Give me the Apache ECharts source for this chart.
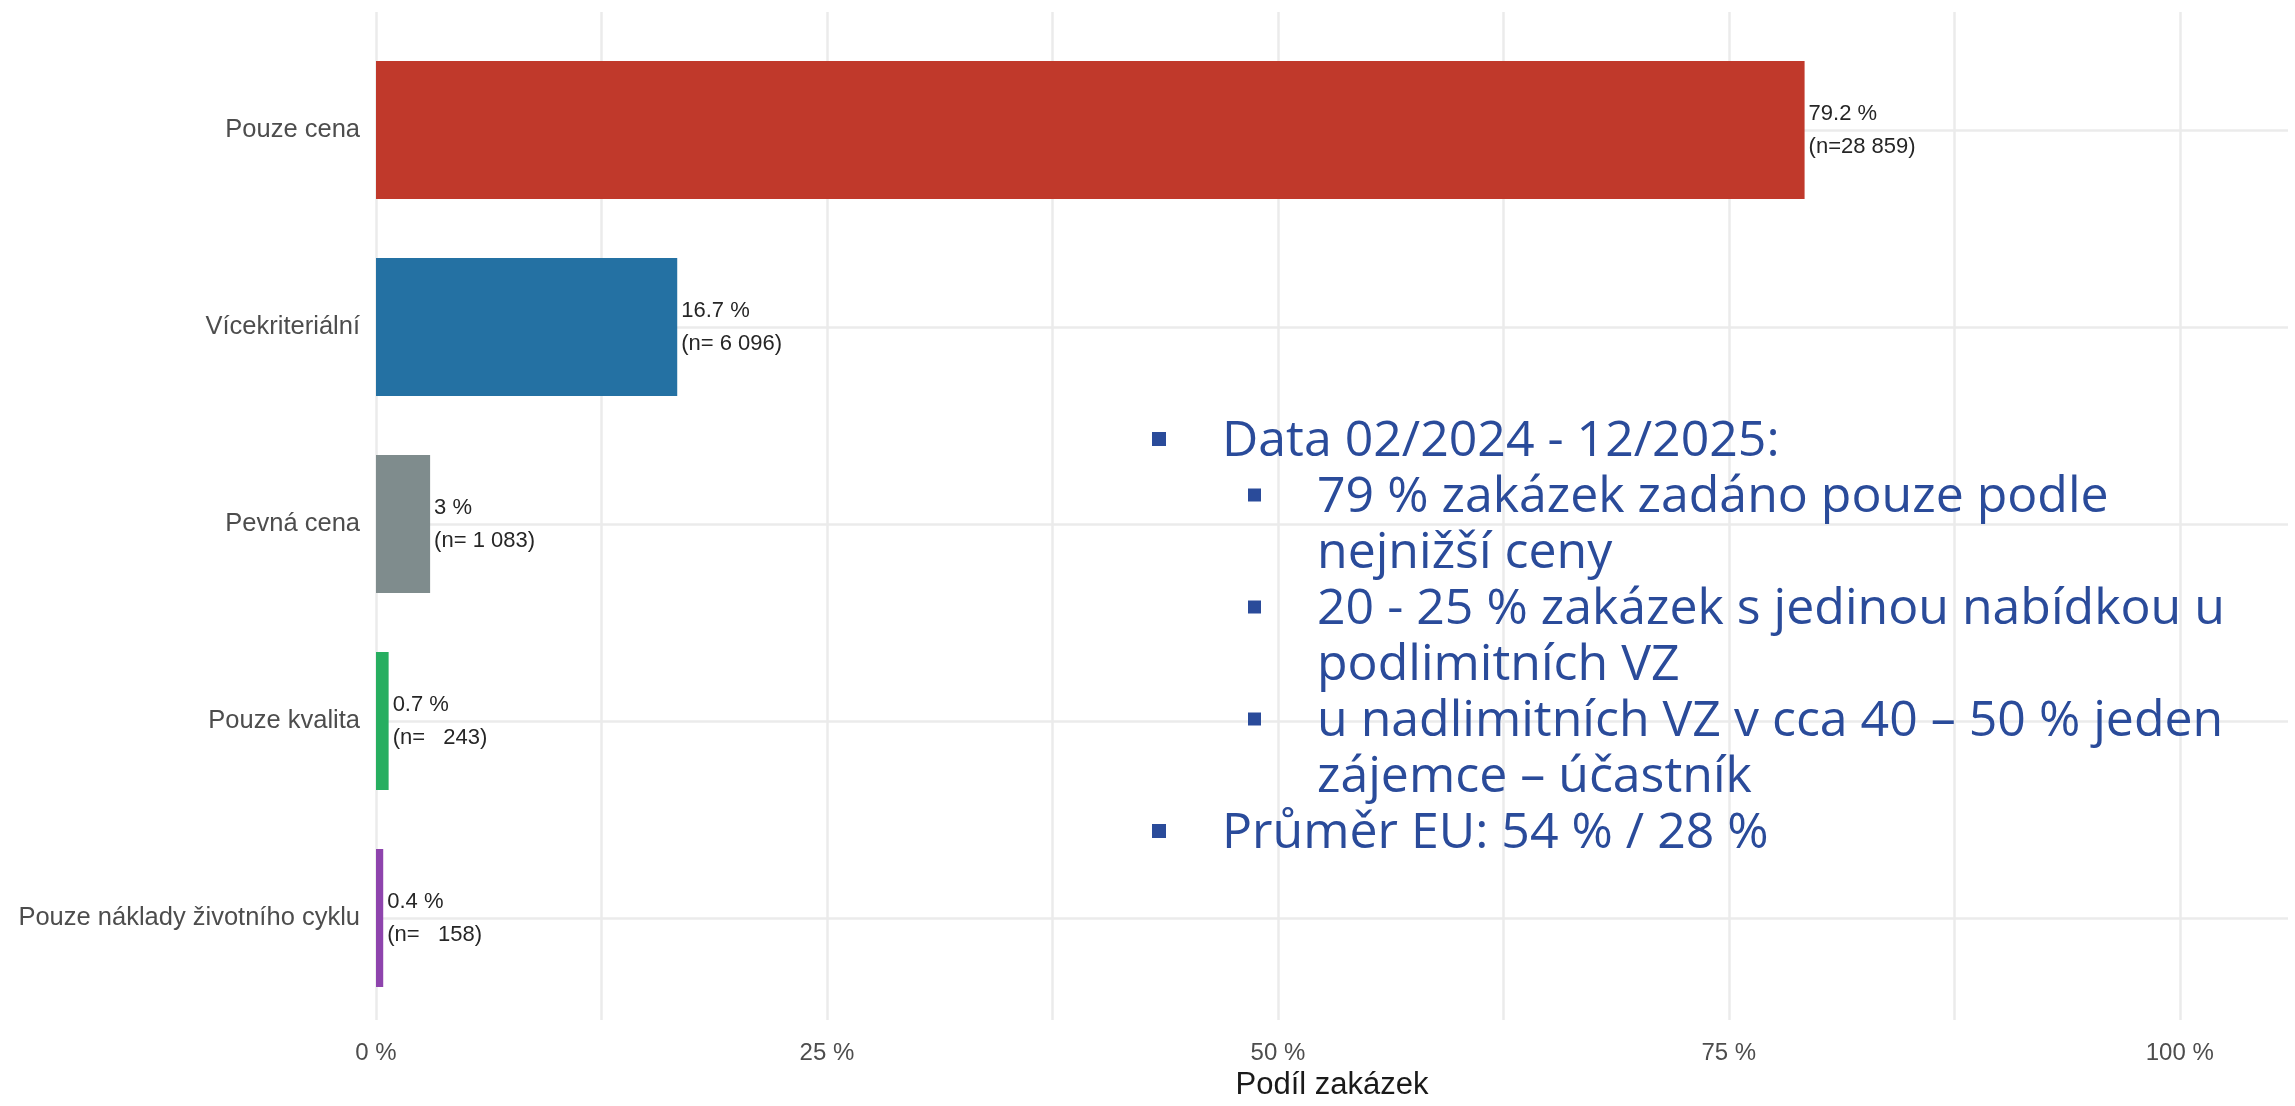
<!DOCTYPE html>
<html>
<head>
<meta charset="utf-8">
<script src="https://cdn.jsdelivr.net/npm/echarts@6.0.0/dist/echarts.min.js"></script>
<style>
  html, body { margin: 0; padding: 0; background: #fff; }
  #chart { width: 2295px; height: 1106px; }
</style>
</head>
<body>
<div id="chart"></div>
<script>
  // data
  const categories = ['Pouze cena', 'Vícekriteriální', 'Pevná cena', 'Pouze kvalita', 'Pouze náklady životního cyklu'];
  const shares = [79.2, 16.7, 3, 0.7, 0.4];
  const counts = [28859, 6096, 1083, 243, 158];
  const barColors = ['#c0392b', '#2471a3', '#7f8c8d', '#27ae60', '#8e44ad'];
  const xTickLabels = [0, 25, 50, 75, 100];

  // annotation text: [level, text, has bullet]
  const noteLines = [
    [0, 'Data 02/2024 - 12/2025:', true],
    [1, '79 % zakázek zadáno pouze podle', true],
    [1, 'nejnižší ceny', false],
    [1, '20 - 25 % zakázek s jedinou nabídkou u', true],
    [1, 'podlimitních VZ', false],
    [1, 'u nadlimitních VZ v cca 40 – 50 % jeden', true],
    [1, 'zájemce – účastník', false],
    [0, 'Průměr EU: 54 % / 28 %', true]
  ];

  const fmtCount = n => String(n).replace(/\B(?=(\d{3})+(?!\d))/g, ' ').padStart(6, ' ');

  const chart = echarts.init(document.getElementById('chart'));

  const noteColor = '#2a4b9a';
  const graphics = [];
  noteLines.forEach(([level, text, bullet], i) => {
    const y = 442 + i * 56;
    const textX = level === 0 ? 1222 : 1317;
    if (bullet) {
      const bx = level === 0 ? 1152 : 1248;
      const s = level === 0 ? 14 : 13;
      graphics.push({
        type: 'rect',
        shape: { x: bx, y: y - 3 - s / 2, width: s, height: s },
        style: { fill: noteColor },
        z: 10
      });
    }
    graphics.push({
      type: 'text',
      x: textX,
      y: y,
      style: {
        text: text,
        font: '50px "Open Sans"',
        fill: noteColor,
        verticalAlign: 'middle',
        align: 'left'
      },
      z: 10
    });
  });

  const gridLine = { color: '#ebebeb', width: 2.5 };

  chart.setOption({
    animation: false,
    textStyle: { fontFamily: '"Liberation Sans", Arial, sans-serif' },
    grid: [
      { left: 376, right: 7, top: 12, height: 1024 },
      { left: 376, right: 7, top: 130, height: 788 }
    ],
    xAxis: [
      {
        gridIndex: 0,
        type: 'value',
        min: 0,
        max: 106,
        interval: 12.5,
        axisLine: { show: false },
        axisTick: { show: false },
        axisLabel: {
          fontSize: 24,
          color: '#4d4d4d',
          margin: 21,
          showMaxLabel: false,
          formatter: v => (xTickLabels.includes(v) ? v + ' %' : '')
        },
        splitLine: { show: true, showMaxLine: false, lineStyle: gridLine },
        name: 'Podíl zakázek',
        nameLocation: 'middle',
        nameGap: 47,
        nameTextStyle: { fontSize: 31, color: '#1a1a1a' }
      },
      {
        gridIndex: 1,
        type: 'value',
        min: 0,
        max: 106,
        show: false
      }
    ],
    yAxis: [
      { gridIndex: 0, type: 'value', show: false, min: 0, max: 1 },
      {
        gridIndex: 1,
        type: 'category',
        data: categories,
        inverse: true,
        boundaryGap: false,
        axisLine: { show: false },
        axisTick: { show: false },
        axisLabel: { fontSize: 25.5, color: '#4d4d4d', margin: 16, interval: 0 },
        splitLine: { show: true, interval: 0, lineStyle: gridLine }
      }
    ],
    series: [
      {
        type: 'bar',
        xAxisIndex: 1,
        yAxisIndex: 1,
        barWidth: 138,
        clip: false,
        data: shares.map((v, i) => ({ value: v, itemStyle: { color: barColors[i] } })),
        label: {
          show: true,
          position: 'right',
          distance: 4,
          fontSize: 22,
          lineHeight: 33,
          color: '#262626',
          formatter: p => shares[p.dataIndex] + ' %\n(n=' + fmtCount(counts[p.dataIndex]) + ')'
        }
      }
    ],
    graphic: graphics
  });
</script>
</body>
</html>
